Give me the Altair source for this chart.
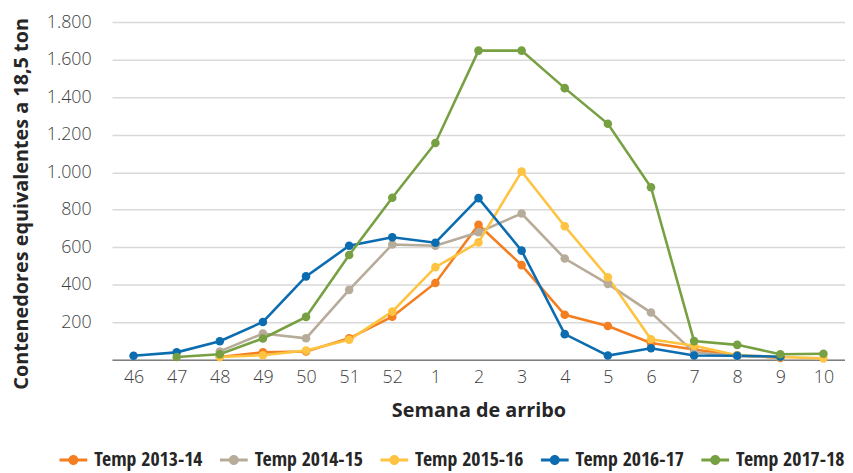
import altair as alt
import pandas as pd

weeks = ["46", "47", "48", "49", "50", "51", "52", "1", "2", "3", "4", "5", "6", "7", "8", "9", "10"]
series = ["Temp 2013-14", "Temp 2014-15", "Temp 2015-16", "Temp 2016-17", "Temp 2017-18"]
colors = ["#F47F20", "#B7AB99", "#FEC340", "#0C6CB0", "#77A042"]

t1314 = [None, None, 15, 40, 45, 115, 230, 410, 720, 505, 240, 180, 90, 55, 25, 10, None]
t1415 = [None, None, 45, 140, 115, 373, 615, 608, 680, 780, 540, 405, 252, 40, 20, 15, None]
t1516 = [None, None, 15, 25, 50, 107, 257, 494, 626, 1004, 712, 440, 110, 75, 25, 15, 8]
t1617 = [22, 40, 99, 202, 445, 608, 653, 624, 862, 582, 137, 23, 62, 23, 22, 17, None]
t1718 = [None, 15, 30, 114, 229, 559, 864, 1156, 1648, 1648, 1448, 1258, 920, 100, 80, 30, 33]

values = [t1314, t1415, t1516, t1617, t1718]
rows = []
for s, vals in zip(series, values):
    for i, (w, v) in enumerate(zip(weeks, vals)):
        if v is not None:
            rows.append({"Serie": s, "Semana": w, "idx": i, "Valor": v})
df = pd.DataFrame(rows)

FONT = "Open Sans"
legend_path = ("M-1,-0.11H1V0.11H-1Z "
               "M-0.36,0A0.36,0.36,0,1,1,0.36,0A0.36,0.36,0,1,1,-0.36,0Z")

base = alt.Chart(df).encode(
    x=alt.X(
        "Semana:N",
        sort=weeks,
        scale=alt.Scale(type="point", padding=0.5),
        axis=alt.Axis(
            title="Semana de arribo",
            labelAngle=0,
            ticks=False,
            grid=False,
            domainColor="#7F7F7F",
            domainWidth=1.5,
            labelPadding=9,
            labelFontSize=18,
            labelFont=FONT,
            labelFontWeight=300,
            labelColor="#404040",
            titleFont=FONT,
            titleFontSize=20,
            titleFontWeight="bold",
            titleColor="#262626",
            titlePadding=14,
        ),
    ),
    y=alt.Y(
        "Valor:Q",
        scale=alt.Scale(domain=[0, 1800], nice=False),
        axis=alt.Axis(
            title="Contenedores equivalentes a 18,5 ton",
            values=[0, 200, 400, 600, 800, 1000, 1200, 1400, 1600, 1800],
            labelExpr="datum.value == 0 ? '' : replace(format(datum.value, ','), ',', '.')",
            domain=False,
            ticks=False,
            grid=True,
            gridColor="#D9D9D9",
            gridWidth=1.5,
            labelPadding=21,
            labelFontSize=18,
            labelFont=FONT,
            labelFontWeight=300,
            labelColor="#404040",
            titleFont=FONT,
            titleFontSize=20,
            titleFontWeight="bold",
            titleColor="#262626",
            titlePadding=15,
            titleY=183,
        ),
    ),
    color=alt.Color(
        "Serie:N",
        sort=series,
        scale=alt.Scale(domain=series, range=colors),
        legend=alt.Legend(
            title=None,
            orient="none",
            direction="horizontal",
            legendX=-53,
            legendY=428,
            symbolType=legend_path,
            symbolSize=784,
            symbolStrokeWidth=0,
            symbolOpacity=1,
            labelFont="Open Sans Condensed, DejaVu Sans Condensed, Roboto",
            labelFontSize=20,
            labelFontWeight="bold",
            labelColor="#262626",
            columnPadding=17,
            labelOffset=7,
        ),
    ),
    order=alt.Order("idx:Q"),
)

lines = base.mark_line(strokeWidth=2.6)
points = base.mark_point(filled=True, size=75, opacity=1)

chart = (
    alt.layer(lines, points)
    .properties(
        width=740,
        height=341,
        autosize="none",
        padding={"left": 105, "top": 12, "right": 0, "bottom": 112},
    )
    .configure_view(stroke=None)
)

chart.save("out.html", embed_options={"renderer": "svg", "actions": False})
